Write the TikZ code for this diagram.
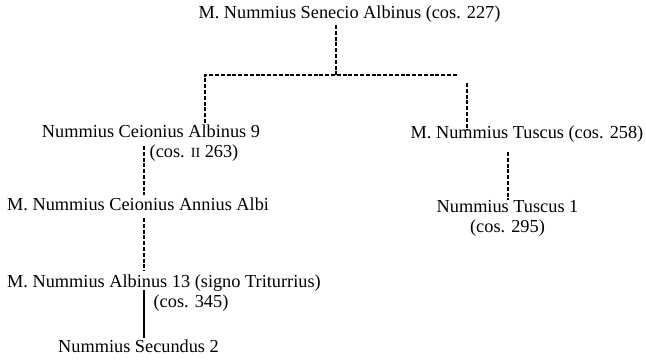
\documentclass[tikz,border=0pt]{standalone}
\usepackage{fontspec}
\setmainfont{Liberation Serif}
\begin{document}
\begin{tikzpicture}[x=1pt,y=-1pt,
  pname/.style={inner sep=0pt,anchor=base,font=\fontsize{18.3}{20}\selectfont},
  pnamew/.style={pname,anchor=base west},
  dline/.style={line width=1.3pt,dash pattern=on 4pt off 1.8pt},
  sline/.style={line width=1.3pt}]
\useasboundingbox (0,0) rectangle (646,360);
% nodes
\node[pname] (top) at (349.5,18) {M. Nummius Senecio Albinus (cos. 227)};
\node[pname] (c9) at (151,137) {Nummius Ceionius Albinus 9};
\node[pname] (c9b) at (194,157) {(cos. {\fontsize{14}{14}\selectfont II} 263)};
\node[pnamew] (ann) at (7,210) {M. Nummius Ceionius Annius Albi};
\node[pnamew] (a13) at (7,287) {M. Nummius Albinus 13 (signo Triturrius)};
\node[pname] (a13b) at (191,307) {(cos. 345)};
\node[pname] (sec) at (138.5,352) {Nummius Secundus 2};
\node[pname] (tus) at (527,138) {M. Nummius Tuscus (cos. 258)};
\node[pname] (tus1) at (507.5,212) {Nummius Tuscus 1};
\node[pname] (tus1b) at (507.5,232) {(cos. 295)};
% junction coordinates
\coordinate (jt) at (336,25);
\coordinate (j) at (336,75);
\coordinate (jl) at (205,75);
\coordinate (jlb) at (205,123);
\coordinate (jr) at (458,75);
\coordinate (rdt) at (467,83);
\coordinate (rdb) at (467,130);
\coordinate (l1) at (144,146);
\coordinate (l2) at (144,195);
\coordinate (l3) at (144,218);
\coordinate (l4) at (144,271);
\coordinate (l5) at (144,290);
\coordinate (l6) at (144,338);
\coordinate (r1) at (508,152);
\coordinate (r2) at (508,200);
% connectors
\draw[dline] (jt) -- (j);
\draw[dline] (jlb) -- (jl) -- (jr);
\draw[dline] (rdt) -- (rdb);
\draw[dline] (l1) -- (l2);
\draw[dline] (l3) -- (l4);
\draw[sline] (l5) -- (l6);
\draw[dline] (r1) -- (r2);
\end{tikzpicture}
\end{document}
